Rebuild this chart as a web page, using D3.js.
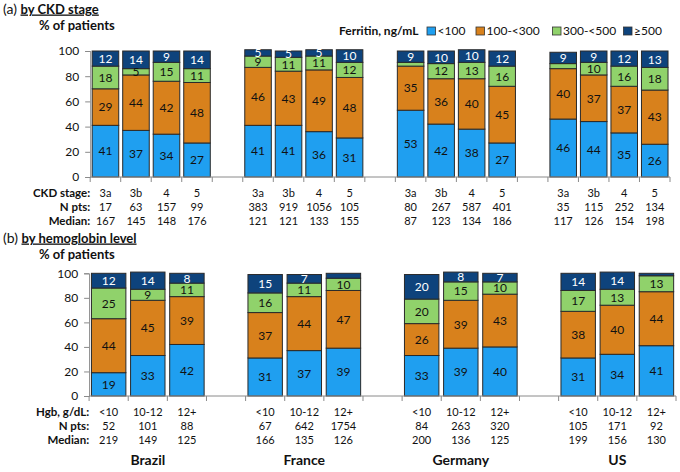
<!DOCTYPE html>
<html>
<meta charset="utf-8">
<style>
  body { margin: 0; background: #fff; }
  svg text { font-family: Lato, "Open Sans", sans-serif; }
</style>
<body>
<div id="chart"></div>
<script src="https://cdn.jsdelivr.net/npm/d3@7"></script>
<script>
  "use strict";

  // Categories
  var countries = ["Brazil", "France", "Germany", "US"];
  var ckdStages = ["3a", "3b", "4", "5"];
  var hgbLevels = ["<10", "10-12", "12+"];
  var ferritinBands = ["<100", "100-<300", "300-<500", "\u2265500"];
  var bandColors = ["#1f9ff0", "#d8811c", "#90d26b", "#0e437c"];

  // (a) by CKD stage, country by country, stage by stage (% of patients)
  var ckdLt100   = [41, 37, 34, 27,  41, 41, 36, 31,  53, 42, 38, 27,  46, 44, 35, 26];
  var ckd100_300 = [29, 44, 42, 48,  46, 43, 49, 48,  35, 36, 40, 45,  40, 37, 37, 43];
  var ckd300_500 = [18,  5, 15, 11,   9, 11, 11, 12,   3, 12, 13, 16,   4, 10, 16, 18];
  var ckdGe500   = [12, 14,  9, 14,   5,  5,  5, 10,   9, 10, 10, 12,   9,  9, 12, 13];
  var ckdNpts    = [17, 63, 157, 99,  383, 919, 1056, 105,  80, 267, 587, 401,  35, 115, 252, 134];
  var ckdMedian  = [167, 145, 148, 176,  121, 121, 133, 155,  87, 123, 134, 186,  117, 126, 154, 198];

  // (b) by hemoglobin level
  var hgbLt100   = [19, 33, 42,  31, 37, 39,  33, 39, 40,  31, 34, 41];
  var hgb100_300 = [44, 45, 39,  37, 44, 47,  26, 39, 43,  38, 40, 44];
  var hgb300_500 = [25,  9, 11,  16, 11, 10,  20, 15, 10,  17, 13, 13];
  var hgbGe500   = [12, 14,  8,  15,  7,  4,  20,  8,  7,  14, 14,  2];
  var hgbNpts    = [52, 101, 88,  67, 642, 1754,  84, 263, 320,  105, 171, 92];
  var hgbMedian  = [219, 149, 125,  166, 135, 126,  200, 136, 125,  199, 156, 130];

  var yTicks = [0, 20, 40, 60, 80, 100];

  var svg = d3.select("#chart").append("svg")
      .attr("width", 680).attr("height", 472);

  // Build slot list: one slot per bar plus an empty slot between countries
  function buildSlots(groups) {
    var slots = [];
    countries.forEach(function (c, ci) {
      groups.forEach(function (g) { slots.push(c + "|" + g); });
      if (ci < countries.length - 1) slots.push("gap" + ci);
    });
    return slots;
  }

  function drawPanel(opt) {
    var slots = buildSlots(opt.groups);
    var x = d3.scaleBand().domain(slots).range(opt.xRange).padding(0);
    var y = d3.scaleLinear().domain([0, 100]).range(opt.yRange);
    var inset = (1 - opt.barFrac) / 2;
    var g = svg.append("g");

    // rows of stacked data
    var rows = [];
    countries.forEach(function (c, ci) {
      opt.groups.forEach(function (gr, gi) {
        var i = ci * opt.groups.length + gi;
        var row = { key: c + "|" + gr };
        opt.series.forEach(function (s, si) { row[ferritinBands[si]] = s[i]; });
        rows.push(row);
      });
    });
    var stacked = d3.stack().keys(ferritinBands)(rows);

    // bars
    stacked.forEach(function (layer, li) {
      g.selectAll(null).data(layer).enter().append("rect")
        .attr("x", function (d) { return x(d.data.key) + x.bandwidth() * inset; })
        .attr("width", x.bandwidth() * opt.barFrac)
        .attr("y", function (d) { return y(d[1]); })
        .attr("height", function (d) { return y(d[0]) - y(d[1]); })
        .attr("fill", bandColors[li])
        .attr("stroke", "#2a2a2a")
        .attr("stroke-width", 1);
    });

    // labels inside segments
    stacked.forEach(function (layer, li) {
      g.selectAll(null).data(layer.filter(function (d) { return d[1] - d[0] >= 5; }))
        .enter().append("text")
        .attr("x", function (d) { return x(d.data.key) + x.bandwidth() / 2; })
        .attr("y", function (d) { return (y(d[0]) + y(d[1])) / 2; })
        .attr("dy", "0.36em")
        .attr("text-anchor", "middle")
        .style("font-size", "12px")
        .attr("fill", li === 3 ? "#fff" : "#111")
        .text(function (d) { return d[1] - d[0]; });
    });

    // y axis
    var yAxis = d3.axisLeft(y).tickValues(yTicks).tickSize(5).tickPadding(6);
    var ya = g.append("g").attr("transform", "translate(" + opt.xRange[0] + ",0)").call(yAxis);
    ya.selectAll("path,line").attr("stroke", "#8a8a8a");
    ya.selectAll("text").style("font-size", "12px").attr("fill", "#111")
      .style("font-family", "Lato, sans-serif");

    // x axis: line with ticks at every slot boundary
    var y0 = y(0);
    g.append("line").attr("x1", opt.xRange[0]).attr("x2", opt.xRange[1])
      .attr("y1", y0).attr("y2", y0).attr("stroke", "#8a8a8a");
    var bounds = slots.map(function (s) { return x(s); }).concat([opt.xRange[1]]);
    g.selectAll(null).data(bounds).enter().append("line")
      .attr("x1", function (d) { return d; }).attr("x2", function (d) { return d; })
      .attr("y1", y0).attr("y2", y0 + 5).attr("stroke", "#8a8a8a");

    // table rows under the axis
    var tableRows = [
      { label: opt.groupLabel, values: rows.map(function (r) { return r.key.split("|")[1]; }) },
      { label: "N pts:", values: opt.npts },
      { label: "Median:", values: opt.median }
    ];
    tableRows.forEach(function (tr, ri) {
      var ty = opt.rowY + ri * 14;
      g.append("text").attr("x", opt.xRange[0]).attr("y", ty)
        .attr("text-anchor", "end").style("font-size", "11.5px")
        .style("font-weight", "bold").attr("fill", "#111").text(tr.label);
      g.selectAll(null).data(rows).enter().append("text")
        .attr("x", function (d) { return x(d.key) + x.bandwidth() / 2; })
        .attr("y", ty).attr("text-anchor", "middle")
        .style("font-size", "11px").attr("fill", "#111")
        .text(function (d, i) { return tr.values[i]; });
    });

    // panel title
    var t = g.append("text").attr("x", 3).attr("y", opt.titleY).attr("fill", "#111");
    t.append("tspan").style("font-size", "14px").text("(" + opt.letter + ") ");
    t.append("tspan").style("font-size", "13px").style("font-weight", "bold")
      .style("text-decoration", "underline").text(opt.title);

    g.append("text").attr("x", 39).attr("y", opt.titleY + 16.5)
      .style("font-size", "13px").style("font-weight", "bold").attr("fill", "#111")
      .text("% of patients");

    return x;
  }

  drawPanel({
    letter: "a", title: "by CKD stage", titleY: 13.5,
    groups: ckdStages, groupLabel: "CKD stage:",
    series: [ckdLt100, ckd100_300, ckd300_500, ckdGe500],
    npts: ckdNpts, median: ckdMedian,
    xRange: [90.2, 670], yRange: [177, 51], barFrac: 0.87, rowY: 196.5
  });

  var xb = drawPanel({
    letter: "b", title: "by hemoglobin level", titleY: 242.5,
    groups: hgbLevels, groupLabel: "Hgb, g/dL:",
    series: [hgbLt100, hgb100_300, hgb300_500, hgbGe500],
    npts: hgbNpts, median: hgbMedian,
    xRange: [89.1, 676], yRange: [396, 273.3], barFrac: 0.88, rowY: 416
  });

  // country names centred under their group of bars in panel (b)
  svg.selectAll(null).data(countries).enter().append("text")
    .attr("x", function (c) {
      var first = xb(c + "|" + hgbLevels[0]);
      var last = xb(c + "|" + hgbLevels[hgbLevels.length - 1]) + xb.bandwidth();
      return (first + last) / 2;
    })
    .attr("y", 465).attr("text-anchor", "middle")
    .style("font-size", "14px").style("font-weight", "bold").attr("fill", "#111")
    .text(function (c) { return c; });

  // legend
  var legend = svg.append("g");
  legend.append("text").attr("x", 339).attr("y", 35)
    .style("font-size", "12px").style("font-weight", "bold").attr("fill", "#111")
    .text("Ferritin, ng/mL");
  var legendX = [427, 476, 552.5, 623.5];
  ferritinBands.forEach(function (b, i) {
    legend.append("rect").attr("x", legendX[i]).attr("y", 27).attr("width", 8.5).attr("height", 8)
      .attr("fill", bandColors[i]).attr("stroke", "#333").attr("stroke-width", 0.8);
    legend.append("text").attr("x", legendX[i] + 10.5).attr("y", 35)
      .style("font-size", "12px").attr("fill", "#111").text(b);
  });
</script>
</body>
</html>
